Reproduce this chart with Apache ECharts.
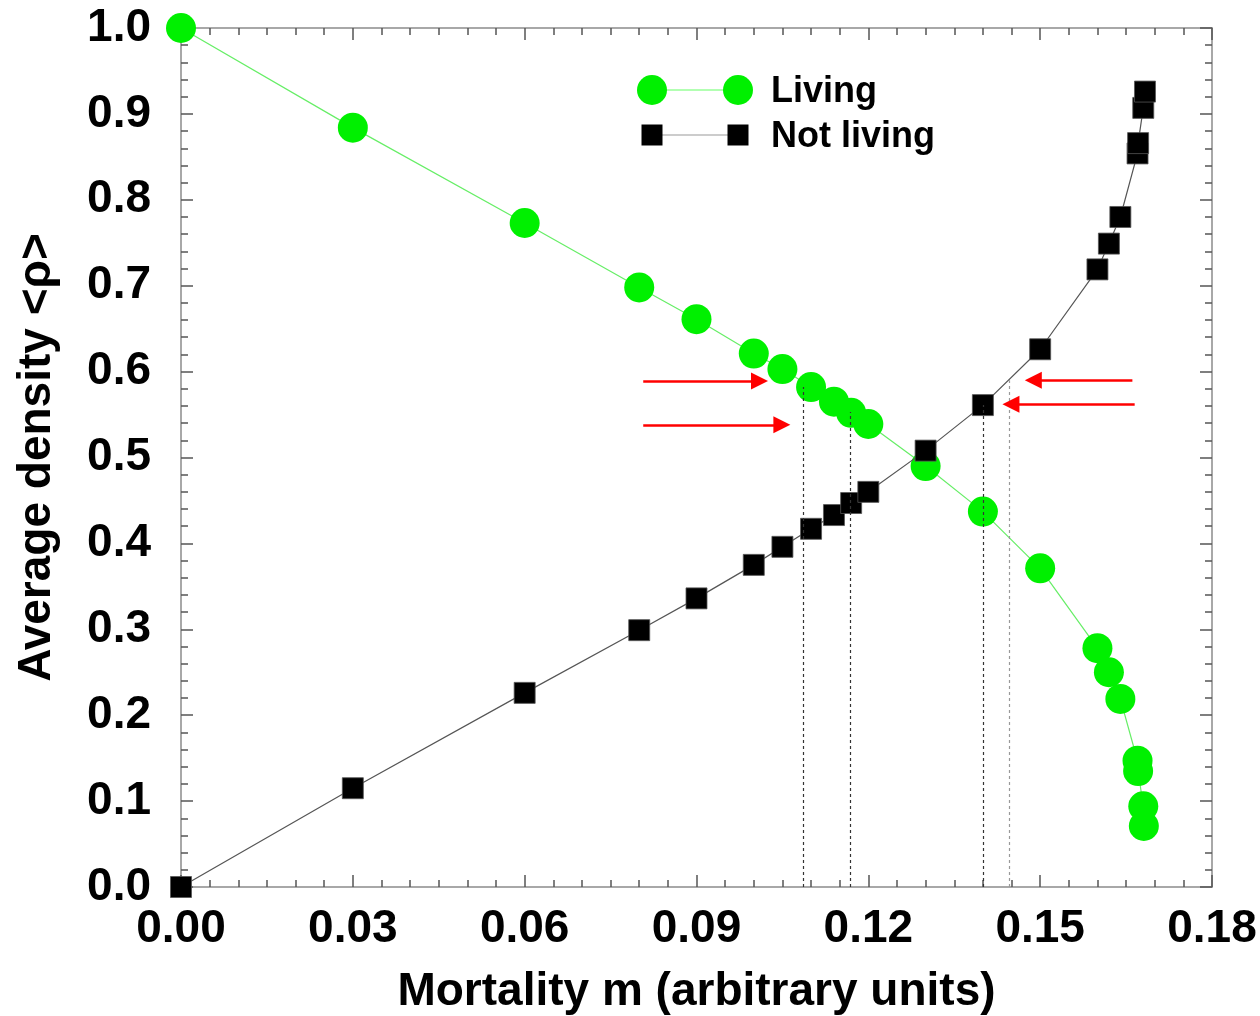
<!DOCTYPE html>
<html>
<head>
<meta charset="utf-8">
<script src="https://cdn.jsdelivr.net/npm/echarts@6/dist/echarts.min.js"></script>
<style>
html,body{margin:0;padding:0;background:#fff;}
#chart{width:1260px;height:1016px;}
</style>
</head>
<body>
<div id="chart"></div>
<script>
// ---- data ----
var mortalityLiving = [0, 0.03, 0.06, 0.08, 0.09, 0.10, 0.105, 0.11, 0.114, 0.117, 0.12, 0.13, 0.14, 0.15, 0.16, 0.162, 0.164, 0.167, 0.1671, 0.168, 0.1681];
var living = [1.0, 0.884, 0.773, 0.698, 0.661, 0.621, 0.603, 0.582, 0.565, 0.552, 0.539, 0.490, 0.437, 0.371, 0.278, 0.250, 0.219, 0.147, 0.135, 0.094, 0.071];
var mortalityNotLiving = [0, 0.03, 0.06, 0.08, 0.09, 0.10, 0.105, 0.11, 0.114, 0.117, 0.12, 0.13, 0.14, 0.15, 0.16, 0.162, 0.164, 0.167, 0.1671, 0.168, 0.1683];
var notLiving = [0, 0.115, 0.226, 0.299, 0.336, 0.375, 0.396, 0.417, 0.433, 0.447, 0.460, 0.508, 0.561, 0.626, 0.719, 0.749, 0.780, 0.854, 0.866, 0.907, 0.926];
// vertical dotted markers: [m, top density]
var dottedMarkers = [[0.1086, 0.582], [0.1168, 0.553], [0.140, 0.561], [0.1446, 0.590]];
// red arrows: [m start, m end, density]
var arrows = [[0.0807, 0.1010, 0.589], [0.0807, 0.1049, 0.538], [0.1661, 0.1488, 0.590], [0.1665, 0.1449, 0.562]];
var xTicks = {min: 0, max: 0.18, interval: 0.03};
var yTicks = {min: 0, max: 1.0, interval: 0.1};
var legendNames = ['Living', 'Not living'];

var FONT = "'Liberation Sans', Arial, Helvetica, sans-serif";
function pairs(xs, ys){ return xs.map(function(x,i){ return [x, ys[i]]; }); }

var axisLineStyle = {color: '#a8a8a8', width: 2};
var tickStyle = {color: '#555', width: 1.5};

var chart = echarts.init(document.getElementById('chart'), null, {renderer: 'canvas'});
var option = {
  backgroundColor: '#fff',
  animation: false,
  grid: {left: 181, right: 48, top: 28, bottom: 129, containLabel: false, outerBoundsMode: 'none'},
  xAxis: [{
    type: 'value', min: xTicks.min, max: xTicks.max, interval: xTicks.interval, position: 'bottom',
    name: 'Mortality m (arbitrary units)', nameLocation: 'middle', nameGap: 82,
    nameTextStyle: {fontFamily: FONT, fontWeight: 'bold', fontSize: 46, color: '#000'},
    axisLine: {show: true, onZero: false, lineStyle: axisLineStyle},
    axisTick: {show: true, inside: true, length: 12, lineStyle: tickStyle},
    minorTick: {show: true, splitNumber: 6, length: 7, lineStyle: tickStyle},
    splitLine: {show: false},
    axisLabel: {fontFamily: FONT, fontWeight: 'bold', fontSize: 46, color: '#000', margin: 19,
      formatter: function(v){ return v.toFixed(2); }}
  }, {
    type: 'value', min: xTicks.min, max: xTicks.max, interval: xTicks.interval, position: 'top',
    axisLine: {show: true, onZero: false, lineStyle: axisLineStyle},
    axisTick: {show: true, inside: true, length: 12, lineStyle: tickStyle},
    minorTick: {show: true, splitNumber: 6, length: 7, lineStyle: tickStyle},
    splitLine: {show: false}, axisLabel: {show: false}
  }],
  yAxis: [{
    type: 'value', min: yTicks.min, max: yTicks.max, interval: yTicks.interval, position: 'left',
    name: 'Average density <\u03c1>', nameLocation: 'middle', nameGap: 121, nameRotate: 90,
    nameTextStyle: {fontFamily: FONT, fontWeight: 'bold', fontSize: 46, color: '#000'},
    axisLine: {show: true, onZero: false, lineStyle: axisLineStyle},
    axisTick: {show: true, inside: true, length: 12, lineStyle: tickStyle},
    minorTick: {show: true, splitNumber: 5, length: 7, lineStyle: tickStyle},
    splitLine: {show: false},
    axisLabel: {fontFamily: FONT, fontWeight: 'bold', fontSize: 46, color: '#000', margin: 30,
      formatter: function(v){ return v.toFixed(1); }}
  }, {
    type: 'value', min: yTicks.min, max: yTicks.max, interval: yTicks.interval, position: 'right',
    axisLine: {show: true, onZero: false, lineStyle: axisLineStyle},
    axisTick: {show: true, inside: true, length: 12, lineStyle: tickStyle},
    minorTick: {show: true, splitNumber: 5, length: 7, lineStyle: tickStyle},
    splitLine: {show: false}, axisLabel: {show: false}
  }],
  series: [{
    name: legendNames[0], type: 'line', data: pairs(mortalityLiving, living),
    symbol: 'circle', symbolSize: 30, clip: false, z: 3,
    itemStyle: {color: '#00f000'},
    lineStyle: {color: '#66ee66', width: 1.2}
  }, {
    name: legendNames[1], type: 'line', data: pairs(mortalityNotLiving, notLiving),
    symbol: 'rect', symbolSize: 21, clip: false, z: 4,
    itemStyle: {color: '#000', borderColor: '#555', borderWidth: 0.8},
    lineStyle: {color: '#555', width: 1.2}
  }, {
    name: 'markers', type: 'line', data: [], z: 6, silent: true,
    markLine: {
      silent: true, symbol: ['none', 'none'], animation: false,
      label: {show: false},
      data: dottedMarkers.map(function(d, i){
        return [{coord: [d[0], 0], lineStyle: {color: i === 3 ? '#999' : '#333', width: 1.2, type: [3, 3]}},
                {coord: [d[0], d[1]]}];
      })
    }
  }, {
    name: 'arrows', type: 'line', data: [], z: 6, silent: true,
    markLine: {
      silent: true, symbol: ['none', 'triangle'], symbolSize: [17, 17], animation: false,
      label: {show: false},
      lineStyle: {color: '#ff0000', width: 2.5, type: 'solid'},
      data: arrows.map(function(a){
        return [{coord: [a[0], a[2]]}, {coord: [a[1], a[2]]}];
      })
    }
  }],
  graphic: [
    {type: 'line', shape: {x1: 652, y1: 90, x2: 738, y2: 90}, style: {stroke: '#99ff99', lineWidth: 1.5}, z: 10},
    {type: 'circle', shape: {cx: 652, cy: 90, r: 15}, style: {fill: '#00f000'}, z: 11},
    {type: 'circle', shape: {cx: 738, cy: 90, r: 15}, style: {fill: '#00f000'}, z: 11},
    {type: 'text', x: 771, y: 92, style: {text: legendNames[0], fill: '#000', font: 'bold 36px ' + FONT, verticalAlign: 'middle', align: 'left'}, z: 11},
    {type: 'line', shape: {x1: 652, y1: 135, x2: 738, y2: 135}, style: {stroke: '#bbb', lineWidth: 1.5}, z: 10},
    {type: 'rect', shape: {x: 641.5, y: 124.5, width: 21, height: 21}, style: {fill: '#000'}, z: 11},
    {type: 'rect', shape: {x: 727.5, y: 124.5, width: 21, height: 21}, style: {fill: '#000'}, z: 11},
    {type: 'text', x: 771, y: 137, style: {text: legendNames[1], fill: '#000', font: 'bold 36px ' + FONT, verticalAlign: 'middle', align: 'left'}, z: 11}
  ]
};
chart.setOption(option);
</script>
</body>
</html>
